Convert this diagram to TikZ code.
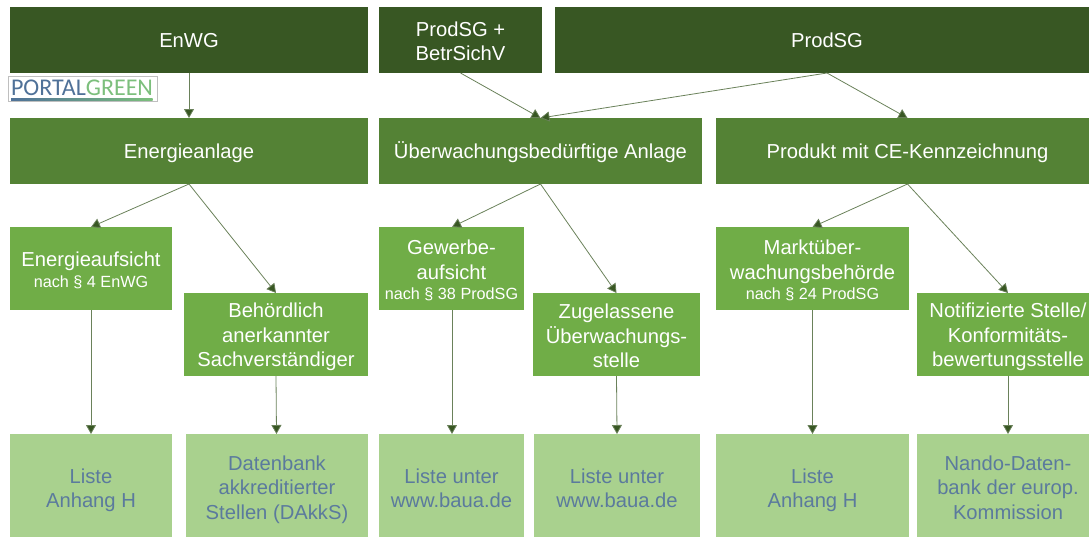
\documentclass[tikz,border=0pt]{standalone}
\usepackage{fontspec}
\setmainfont{Liberation Sans}
\newfontfamily\logofont{Carlito}
\usetikzlibrary{arrows.meta}
\definecolor{darkg}{HTML}{385723}
\definecolor{midg}{HTML}{548235}
\definecolor{brightg}{HTML}{70AD47}
\definecolor{lightg}{HTML}{A9D18E}
\definecolor{slate}{HTML}{5B7A9D}
\definecolor{logoblue}{HTML}{4F7198}
\definecolor{logogreen}{HTML}{7CBF7C}
\tikzset{
  boxbase/.style={inner sep=0pt,outer sep=0pt,align=center,text=white,font=\fontsize{20.2}{24.5}\selectfont},
  lawbox/.style={boxbase,fill=darkg},
  typebox/.style={boxbase,fill=midg},
  bodybox/.style={boxbase,fill=brightg},
  listbox/.style={boxbase,fill=lightg,text=slate},
  conn/.style={draw=darkg!75!white,line width=0.8pt,-{Triangle[length=9pt,width=10pt,fill=darkg]}},
}
\newcommand{\bx}[8][18.5]{\node[#3,minimum width={(#6-#4)*1pt},minimum height={(#7-#5)*1pt}] (#2) at ({(#4+#6)/2},{(#5+#7)/2}) {\rule{0pt}{#1pt}#8};}
\newcommand{\smalltxt}[1]{{\fontsize{16.2}{21}\selectfont #1}}
\begin{document}
\begin{tikzpicture}[x=1pt,y=-1pt]
\useasboundingbox (0,0) rectangle (1089,538);
\clip (0,0) rectangle (1089,538);
\bx[14.5]{enwg}{lawbox}{10}{7}{368}{73}{EnWG}
\bx[17]{betr}{lawbox}{379}{7}{542}{73}{ProdSG +\\BetrSichV}
\bx[14.5]{prodsg}{lawbox}{555}{7}{1099}{73}{ProdSG}
\bx{energie}{typebox}{10}{118}{368}{184}{Energieanlage}
\bx{ueber}{typebox}{379}{118}{702}{184}{Überwachungsbedürftige Anlage}
\bx{produkt}{typebox}{716}{118}{1099}{184}{Produkt mit CE-Kennzeichnung}
\bx{eauf}{bodybox}{10}{227}{172}{310}{Energieaufsicht\\[-4pt]\smalltxt{nach § 4 EnWG}}
\bx[19.5]{sach}{bodybox}{184}{293}{368}{376}{Behördlich\\anerkannter\\Sachverständiger}
\bx{gew}{bodybox}{379}{227}{524}{310}{Gewerbe-\\aufsicht\\[-4pt]\smalltxt{nach § 38 ProdSG}}
\bx[17.5]{zug}{bodybox}{533}{293}{700}{376}{Zugelassene\\Überwachungs-\\stelle}
\bx{markt}{bodybox}{716}{227}{909}{310}{Marktüber-\\wachungsbehörde\\[-4pt]\smalltxt{nach § 24 ProdSG}}
\bx[19.5]{notif}{bodybox}{917}{293}{1099}{376}{Notifizierte Stelle/\\Konformitäts-\\bewertungsstelle}
\bx[24.5]{l1}{listbox}{10}{434}{172}{537}{Liste\\Anhang H}
\bx[22.5]{l2}{listbox}{186}{434}{368}{537}{Datenbank\\akkreditierter\\Stellen (DAkkS)}
\bx[20.5]{l3}{listbox}{379}{434}{524}{537}{Liste unter\\www.baua.de}
\bx[20.5]{l4}{listbox}{534}{434}{700}{537}{Liste unter\\www.baua.de}
\bx[24.5]{l5}{listbox}{716}{434}{909}{537}{Liste\\Anhang H}
\bx{l6}{listbox}{917}{434}{1099}{537}{Nando-Daten-\\bank der europ.\\Kommission}
% logo
\node[draw=black!25,line width=0.5pt,fill=white,inner sep=0pt,outer sep=0pt,minimum width=149pt,minimum height=25pt] (logo) at (83,88.5) {};
\node[inner sep=0pt,font=\logofont\fontsize{24}{24}\selectfont] (logotxt) at (82,88) {\textcolor{logoblue}{PORTAL}\textcolor{logogreen}{GREEN}};
\shade[left color=logoblue,right color=logogreen] (11,98.5) rectangle (152.5,100);
% connectors
\draw[conn] (enwg.south) -- (energie.north);
\draw[conn] (betr.south) -- (ueber.north);
\draw[conn] (prodsg.south) -- (ueber.north);
\draw[conn] (prodsg.south) -- (produkt.north);
\draw[conn] (energie.south) -- (eauf.north);
\draw[conn] (energie.south) -- (sach.north);
\draw[conn] (ueber.south) -- ([xshift=0.5pt]gew.north);
\draw[conn] (ueber.south) -- (zug.north);
\draw[conn] (produkt.south) -- (markt.north);
\draw[conn] (produkt.south) -- (notif.north);
\draw[conn] (eauf.south) -- (l1.north);
\draw[conn] (sach.south) -- ([xshift=-0.5pt]l2.north);
\draw[conn] ([xshift=0.5pt]gew.south) -- ([xshift=0.5pt]l3.north);
\draw[conn] (zug.south) -- (l4.north);
\draw[conn] (markt.south) -- (l5.north);
\draw[conn] (notif.south) -- (l6.north);
\end{tikzpicture}
\end{document}
